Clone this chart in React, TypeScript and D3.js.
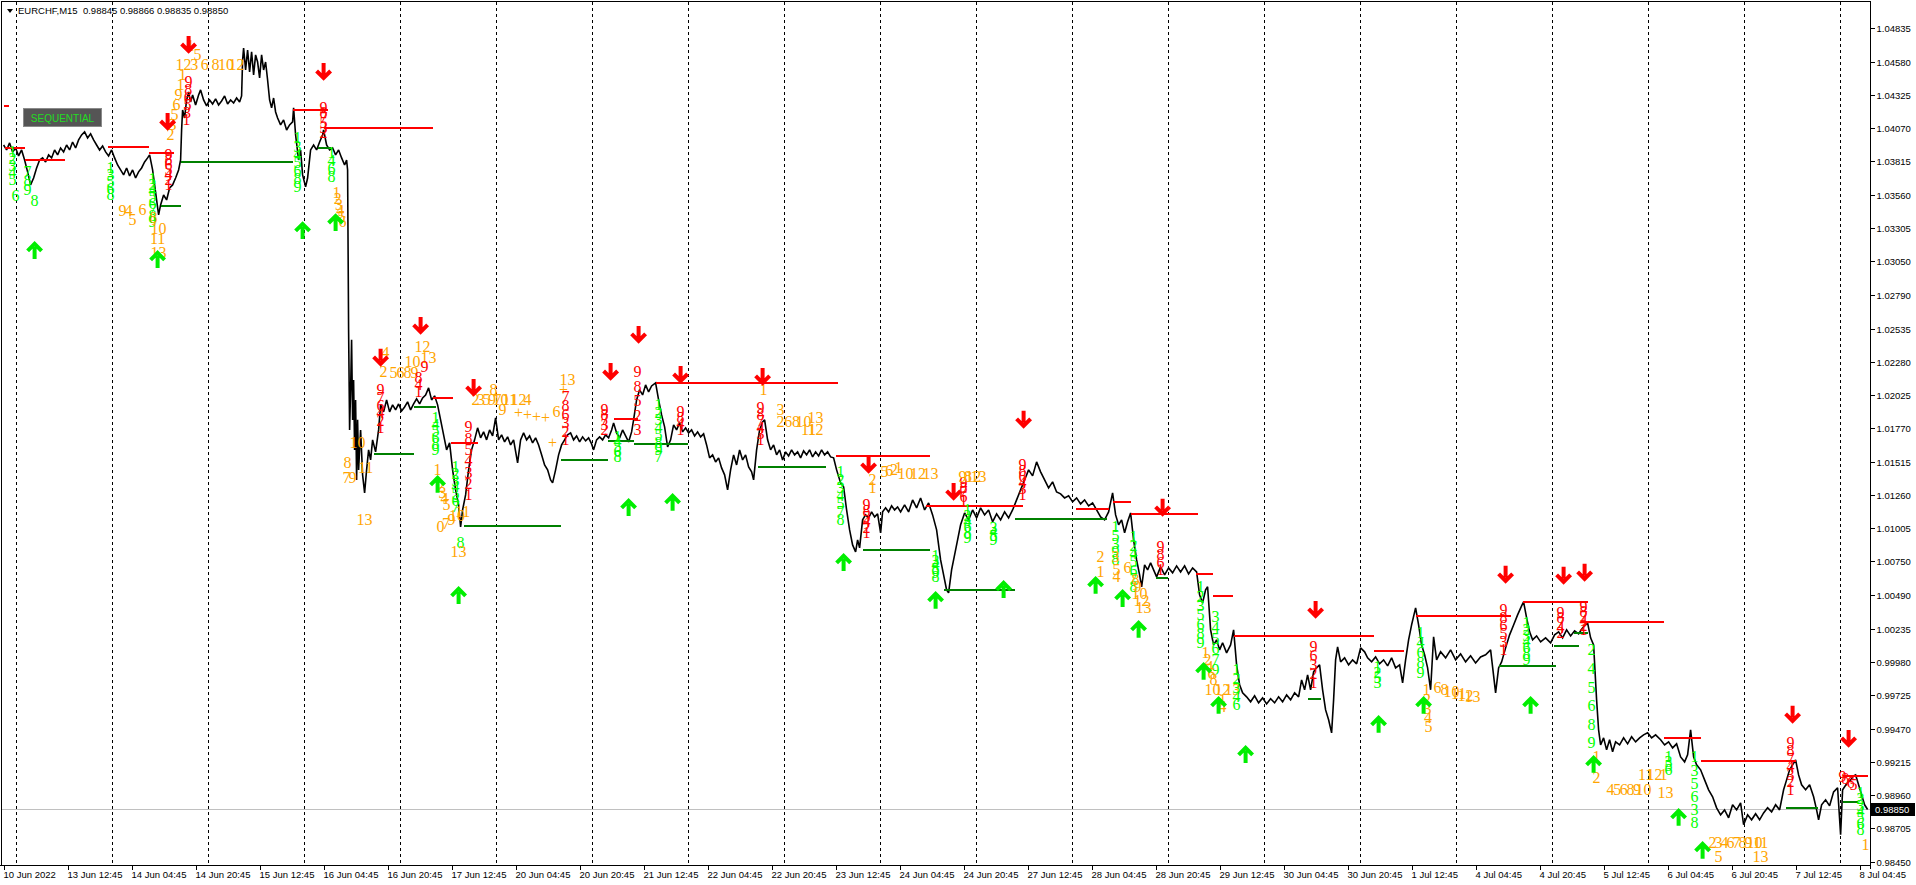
import React from "react";
import * as d3 from "d3";

const priceTickLabels = ["1.04835","1.04580","1.04325","1.04070","1.03815","1.03560","1.03305","1.03050","1.02790","1.02535","1.02280","1.02025","1.01770","1.01515","1.01260","1.01005","1.00750","1.00490","1.00235","0.99980","0.99725","0.99470","0.99215","0.98960","0.98705","0.98450"];
const timeTickLabels = ["10 Jun 2022","13 Jun 12:45","14 Jun 04:45","14 Jun 20:45","15 Jun 12:45","16 Jun 04:45","16 Jun 20:45","17 Jun 12:45","20 Jun 04:45","20 Jun 20:45","21 Jun 12:45","22 Jun 04:45","22 Jun 20:45","23 Jun 12:45","24 Jun 04:45","24 Jun 20:45","27 Jun 12:45","28 Jun 04:45","28 Jun 20:45","29 Jun 12:45","30 Jun 04:45","30 Jun 20:45","1 Jul 12:45","4 Jul 04:45","4 Jul 20:45","5 Jul 12:45","6 Jul 04:45","6 Jul 20:45","7 Jul 12:45","8 Jul 04:45"];
const barsPerTimeTick = 64;
const daySeparatorBars = [12,108,204,300,396,492,588,684,780,876,972,1068,1164,1260,1356,1452,1548,1644,1740,1836];
const lastBar = 1864;
const currentPrice = 0.9885;
const headerText = "EURCHF,M15  0.98845 0.98866 0.98835 0.98850";

// [bar index (M15), close]
const closes: [number, number][] = [
[0,1.03941],[3,1.03903],[6,1.03957],[9,1.03888],[12,1.03918],[15,1.03857],[18,1.03903],[21,1.03826],[24,1.03735],[27,1.03635],[30,1.03688],[33,1.03765],[36,1.03826],[39,1.03842],[42,1.03811],[45,1.03865],[48,1.03842],[51,1.03903],[54,1.03865],[57,1.03918],[60,1.03888],[63,1.03941],[66,1.03903],[69,1.03964],[72,1.03918],[75,1.03980],[78,1.04018],[81,1.04041],[84,1.03995],[87,1.04026],[90,1.03980],[93,1.03941],[96,1.03903],[99,1.03934],[102,1.03888],[105,1.03857],[108,1.03903],[111,1.03842],[114,1.03788],[117,1.03750],
[120,1.03712],[123,1.03765],[126,1.03704],[129,1.03750],[132,1.03688],[135,1.03735],[138,1.03765],[141,1.03811],[144,1.03842],[146,1.03865],[149,1.03750],[151,1.03635],[153,1.03520],[155,1.03405],[157,1.03482],[160,1.03558],[163,1.03520],[166,1.03612],[169,1.03635],[172,1.03688],[175,1.03750],[177,1.03826],[178,1.04056],[179,1.04209],[181,1.04148],[183,1.04286],[185,1.04347],[187,1.04271],[189,1.04324],[192,1.04248],[195,1.04324],[197,1.04363],[200,1.04286],[203,1.04240],[206,1.04286],[209,1.04255],[212,1.04294],[215,1.04248],[218,1.04278],[221,1.04317],[224,1.04255],[227,1.04286],[230,1.04263],[233,1.04301],[236,1.04271],[238,1.04317],[239,1.04592],[240,1.04684],[242,1.04516],[244,1.04669],[246,1.04500],[248,1.04654],[250,1.04478],[252,1.04631],[254,1.04577],[256,1.04455],[258,1.04631],[260,1.04516],[262,1.04577],[264,1.04439],[266,1.04286],[268,1.04225],[270,1.04301],[272,1.04194],[274,1.04148],[277,1.04095],[280,1.04133],[283,1.04056],[286,1.04095],[289,1.04118],[290,1.04225],[292,1.04018],[295,1.03826],[297,1.03903],[299,1.03712],[302,1.03620],[304,1.03688],[307,1.03903],[310,1.03941],[313,1.03903],[316,1.03964],[319,1.04018],[320,1.04056],[323,1.03941],[326,1.03903],[329,1.03918],[332,1.03865],[335,1.03903],[338,1.03842],[341,1.03788],[343,1.03826],[344,1.03750],
[345,1.02524],[346,1.01758],[347,1.02065],[348,1.02448],[349,1.01835],[350,1.02141],[351,1.01605],[352,1.01988],[353,1.01375],[354,1.01835],[355,1.01452],[357,1.01758],[359,1.01414],[361,1.01276],[363,1.01452],[365,1.01605],[367,1.01528],[369,1.01682],[372,1.01590],[375,1.01758],[377,1.01950],[380,1.01896],[383,1.01988],[386,1.01896],[389,1.01950],[392,1.01911],[395,1.01957],[398,1.01904],[401,1.01934],[404,1.01973],[407,1.01911],[410,1.01957],[413,1.01996],[416,1.01957],[419,1.02003],[422,1.02026],[425,1.02080],[428,1.01988],[431,1.02019],[434,1.01950],[437,1.01835],[440,1.01720],[443,1.01605],[446,1.01659],[449,1.01452],[452,1.01299],[455,1.01184],[457,1.01015],[459,1.01145],[462,1.01260],[465,1.01452],[468,1.01605],[471,1.01682],[474,1.01774],[477,1.01697],[480,1.01743],[483,1.01682],[486,1.01758],[489,1.01712],[492,1.01850],[495,1.01682],[498,1.01720],[501,1.01666],[504,1.01705],[507,1.01643],[510,1.01682],[514,1.01505],[517,1.01682],[520,1.01735],[523,1.01682],[526,1.01712],[529,1.01659],[532,1.01697],[535,1.01643],[538,1.01567],[541,1.01490],[544,1.01452],[547,1.01375],[549,1.01352],[552,1.01452],[555,1.01567],[558,1.01643],[561,1.01682],[564,1.01720],[567,1.01735],[570,1.01682],[573,1.01712],[576,1.01666],[579,1.01705],[582,1.01674],[585,1.01697],[588,1.01651],[590,1.01605],[593,1.01682],[596,1.01705],[599,1.01682],[602,1.01720],[605,1.01697],[608,1.01758],[610,1.01812],[613,1.01735],[616,1.01697],[619,1.01758],[622,1.01712],[625,1.01666],[628,1.01743],[630,1.01835],[633,1.01988],[636,1.02065],[639,1.02026],[642,1.02103],[645,1.02049],[648,1.02095],[652,1.02118],[655,1.01988],[658,1.01873],[661,1.01781],[664,1.01628],[667,1.01682],[670,1.01797],[673,1.01758],[676,1.01812],[679,1.01743],[682,1.01774],[685,1.01735],[688,1.01758],[691,1.01712],[694,1.01743],[697,1.01705],[700,1.01728],[703,1.01643],[706,1.01544],[709,1.01567],[712,1.01513],[715,1.01544],[718,1.01467],[721,1.01414],[724,1.01299],[727,1.01452],[730,1.01567],[733,1.01490],[736,1.01605],[739,1.01528],[742,1.01567],[745,1.01475],[748,1.01437],[750,1.01375],[753,1.01605],[756,1.01758],[759,1.01820],[761,1.01835],[764,1.01682],[767,1.01605],[770,1.01643],[773,1.01567],[776,1.01605],[779,1.01528],[782,1.01590],[785,1.01559],[788,1.01605],[791,1.01567],[794,1.01590],[797,1.01544],[800,1.01597],[803,1.01567],[806,1.01605],[809,1.01551],[812,1.01590],[815,1.01559],[818,1.01605],[821,1.01567],[824,1.01590],[827,1.01551],[830,1.01544],[833,1.01452],[837,1.01352],[840,1.01322],[843,1.01145],[846,1.00992],[849,1.00877],[852,1.00824],[854,1.00916],[856,1.00854],[859,1.01069],[862,1.01107],[865,1.01084],[868,1.01130],[871,1.01092],[874,1.01115],[877,1.00969],[879,1.01130],[882,1.01161],[885,1.01130],[888,1.01176],[891,1.01145],[894,1.01168],[897,1.01130],
[901,1.01184],[905,1.01130],[909,1.01222],[913,1.01161],[917,1.01237],[921,1.01145],[925,1.01199],[929,1.01107],[933,1.00992],[937,1.00762],[940,1.00648],[943,1.00533],[945,1.00510],[948,1.00686],[951,1.00801],[954,1.00916],[957,1.01031],[961,1.01122],[965,1.01069],[969,1.01145],[973,1.01084],[977,1.01161],[981,1.01107],[985,1.01145],[989,1.01054],[993,1.01115],[997,1.01069],[1001,1.01130],[1005,1.01084],[1009,1.01145],[1013,1.01222],[1017,1.01299],[1021,1.01375],[1025,1.01452],[1029,1.01406],[1033,1.01513],[1037,1.01437],[1041,1.01375],[1045,1.01314],[1049,1.01360],[1053,1.01283],[1057,1.01268],[1061,1.01237],[1065,1.01253],[1069,1.01207],[1073,1.01237],[1077,1.01191],[1081,1.01222],[1085,1.01176],[1089,1.01199],[1093,1.01145],[1097,1.01092],
[1101,1.01069],[1105,1.01130],[1109,1.01276],[1112,1.01107],[1115,1.01031],[1118,1.01069],[1121,1.00969],[1124,1.01054],[1127,1.01122],[1130,1.00916],[1133,1.00762],[1136,1.00648],[1138,1.00556],[1141,1.00724],[1144,1.00686],[1147,1.00739],[1150,1.00686],[1153,1.00632],[1157,1.00709],[1161,1.00648],[1165,1.00701],[1169,1.00663],[1173,1.00716],[1177,1.00670],[1181,1.00716],[1185,1.00655],[1189,1.00701],[1193,1.00670],[1196,1.00494],[1199,1.00433],[1202,1.00533],[1204,1.00556],[1207,1.00226],[1210,1.00111],[1213,1.00150],[1216,1.00073],[1219,1.00127],[1223,1.00050],[1227,1.00111],[1230,1.00226],[1233,0.99958],[1236,0.99805],[1239,0.99744],[1243,0.99713],[1247,0.99675],[1251,0.99721],[1255,0.99667],[1259,0.99705],[1263,0.99659],[1267,0.99698],[1271,0.99667],[1275,0.99713],[1279,0.99675],[1283,0.99728],[1287,0.99690],[1291,0.99744],[1295,0.99713],[1298,0.99843],[1301,0.99767],[1304,0.99882],[1307,0.99767],[1310,0.99905],[1313,0.99935],[1316,0.99958],[1319,0.99767],[1322,0.99613],[1325,0.99537],[1328,0.99437],[1330,0.99690],[1332,0.99996],[1334,1.00096],[1337,0.99981],[1341,1.00012],[1345,0.99958],[1349,0.99996],[1353,0.99966],[1357,1.00088],[1361,1.00058],[1364,1.00012],[1368,0.99981],[1372,1.00019],[1376,0.99966],[1380,0.99996],[1384,0.99950],[1388,1.00012],[1392,0.99935],[1396,0.99958],
[1399,0.99820],[1402,0.99996],[1405,1.00150],[1408,1.00264],[1412,1.00395],[1415,1.00264],[1418,1.00111],[1421,1.00035],[1424,0.99935],[1427,0.99767],[1430,1.00173],[1433,0.99996],[1437,1.00058],[1442,1.00012],[1447,1.00073],[1452,0.99996],[1457,1.00042],[1462,0.99981],[1467,1.00027],[1472,0.99973],[1477,1.00019],[1482,1.00035],[1487,1.00073],[1492,0.99744],[1495,0.99935],[1498,0.99981],[1502,1.00088],[1506,1.00188],[1510,1.00264],[1514,1.00341],[1518,1.00410],[1520,1.00441],[1523,1.00318],[1526,1.00211],[1529,1.00150],[1533,1.00180],[1537,1.00134],[1542,1.00165],[1547,1.00127],[1551,1.00188],[1555,1.00211],[1559,1.00165],[1563,1.00226],[1567,1.00180],[1571,1.00219],[1575,1.00196],[1579,1.00241],[1584,1.00280],[1587,1.00165],[1590,1.00111],[1593,0.99690],[1595,0.99460],[1597,0.99345],[1600,0.99399],[1603,0.99307],[1606,0.99384],[1609,0.99292],[1612,0.99368],[1616,0.99345],[1620,0.99399],[1624,0.99353],[1628,0.99407],[1632,0.99368],[1636,0.99399],[1640,0.99422],[1644,0.99437],[1648,0.99399],[1652,0.99422],[1657,0.99384],[1661,0.99345],[1665,0.99368],[1669,0.99322],[1673,0.99353],[1677,0.99253],[1681,0.99215],[1684,0.99269],[1687,0.99460],[1690,0.99253],[1693,0.99192],[1697,0.99154],[1701,0.99077],[1705,0.99001],[1709,0.98947],[1713,0.98863],[1717,0.98809],[1721,0.98847],[1725,0.98786],[1729,0.98886],[1733,0.98847],[1737,0.98901],[1740,0.98733],[1744,0.98809],[1748,0.98771],[1752,0.98817],[1756,0.98771],[1760,0.98824],[1764,0.98863],[1768,0.98832],[1772,0.98886],[1776,0.98847],[1780,0.99001],[1783,0.99077],[1786,0.99154],[1789,0.99192],[1792,0.99230],[1795,0.99115],[1798,0.99039],[1802,0.99001],[1806,0.99039],[1810,0.98947],[1813,0.98847],[1815,0.98771],[1818,0.98886],[1822,0.98924],[1826,0.98878],[1830,0.98985],[1834,0.99016],[1837,0.98656],[1839,0.99001],[1843,0.99047],[1847,0.99077],[1850,0.99108],[1852,0.99115],[1855,0.99039],[1858,0.98962],[1861,0.98886],[1864,0.98850]
];

// [from bar, to bar, level]
const resistanceLines: [number, number, number][] = [
[0,5,1.04240],[1,21,1.03918],[21,61,1.03826],[104,145,1.03926],[145,170,1.03880],[289,324,1.04209],[320,429,1.04072],[429,449,1.02003],[447,474,1.01659],[610,634,1.01842],[652,834,1.02118],[832,926,1.01559],[922,1019,1.01176],[1072,1105,1.01153],[1109,1127,1.01207],[1127,1194,1.01115],[1192,1209,1.00655],[1209,1229,1.00487],[1230,1370,1.00180],[1370,1400,1.00065],[1412,1507,1.00333],[1519,1584,1.00441],[1577,1660,1.00288],[1660,1697,0.99399],[1697,1792,0.99223],[1839,1864,0.99108]
];
const supportLines: [number, number, number][] = [
[157,177,1.03474],[177,289,1.03811],[314,327,1.03918],[370,410,1.01574],[410,432,1.01934],[460,557,1.01023],[557,604,1.01528],[604,630,1.01674],[630,684,1.01651],[754,822,1.01475],[859,926,1.00839],[940,1011,1.00533],[1011,1103,1.01077],[1152,1164,1.00625],[1304,1317,0.99698],[1495,1552,0.99950],[1550,1575,1.00104],[1570,1584,1.00203],[1782,1814,0.98863],[1839,1854,0.98909]
];
// [bar, price]
const sellArrows: [number, number][] = [
[185,1.04707],[164,1.04117],[320,1.04500],[377,1.02310],[417,1.02555],[470,1.02080],[607,1.02202],[635,1.02486],[677,1.02179],[759,1.02164],[865,1.01490],[950,1.01283],[1020,1.01835],[1159,1.01161],[1312,1.00379],[1502,1.00648],[1560,1.00640],[1581,1.00663],[1789,0.99575],[1845,0.99391]
];
const buyArrows: [number, number][] = [
[31,1.03137],[154,1.03068],[299,1.03290],[332,1.03351],[434,1.01345],[455,1.00494],[625,1.01168],[669,1.01207],[840,1.00747],[932,1.00456],[1000,1.00540],[1092,1.00571],[1119,1.00471],[1135,1.00234],[1200,0.99912],[1215,0.99652],[1242,0.99276],[1375,0.99506],[1420,0.99652],[1527,0.99652],[1590,0.99200],[1675,0.98794],[1699,0.98541]
];
// count labels: [bar first, bar last, price first, price last, counts, kind]
const countLabels: [number, number, number, number, string, string][] = [
[9,9,1.03888,1.03674,"1|2|3|4|5","g"],[12,12,1.03551,1.03551,"6","g"],[24,24,1.03735,1.03597,"7|8|9","g"],[31,31,1.03512,1.03512,"8","g"],[107,107,1.03765,1.03558,"1|3|5|6|8","g"],
[119,125,1.03436,1.03436,"9|4","o"],[129,129,1.03367,1.03367,"5","o"],[139,139,1.03443,1.03443,"6","o"],
[165,165,1.03865,1.03635,"9|8|6|5|4|2|1","r"],[149,149,1.03688,1.03351,"1|2|4|5|6|7|8|9","g"],
[150,150,1.03382,1.03382,"8","o"],[155,155,1.03298,1.03298,"10","o"],[154,154,1.03221,1.03221,"11","o"],[155,155,1.03114,1.03114,"13","o"],
[187,194,1.04707,1.04631,"1|5","o"],[180,233,1.04554,1.04554,"12|3|6|8|10|12","o"],[179,167,1.04478,1.04018,"1|1|9|6|5|3|2","o"],
[185,183,1.04424,1.04133,"9|8|6|5|3|1","r"],[320,320,1.04225,1.04033,"9|8|7|5|3|2","r"],
[294,294,1.03995,1.03620,"1|3|4|5|6|8|9","g"],[328,328,1.03880,1.03696,"1|4|6|8","g"],[333,339,1.03574,1.03351,"1|2|3|4|5|6","o"],
[382,382,1.02348,1.02348,"4","o"],[380,380,1.02202,1.02202,"2","o"],[390,411,1.02195,1.02195,"5|6|8|9","o"],[409,409,1.02279,1.02279,"10","o"],[419,419,1.02394,1.02394,"12","o"],[425,425,1.02310,1.02310,"13","o"],
[415,415,1.02157,1.02049,"8|4|1","r"],[421,421,1.02241,1.02241,"9","r"],[377,377,1.02065,1.01774,"9|7|6|4|2|1","r"],
[354,354,1.01659,1.01659,"10","o"],[344,344,1.01505,1.01505,"8","o"],[362,362,1.01467,1.01467,"11","o"],[343,349,1.01391,1.01391,"7|9","o"],[361,361,1.01069,1.01069,"13","o"],
[432,432,1.01850,1.01605,"1|4|5|6|8|9","g"],[434,434,1.01452,1.01452,"1","o"],[437,443,1.01322,1.01184,"2|3|4|5","o"],[437,459,1.01015,1.01130,"0|7|9|10|11","o"],
[452,452,1.01475,1.01168,"1|2|3|4|5|6|7","g"],[457,457,1.00893,1.00893,"8","g"],[455,455,1.00824,1.00824,"13","o"],
[465,465,1.01781,1.01260,"9|8|5|4|3|2|1","r"],[472,494,1.01988,1.01988,"2|3|5|9|7","o"],[490,490,1.02065,1.02065,"8","o"],[497,524,1.01988,1.01988,"10|11|12|4","o"],[499,499,1.01911,1.01911,"9","o"],[515,542,1.01888,1.01850,"+|+|+|+","o"],
[564,564,1.02141,1.02141,"13","o"],[560,560,1.02065,1.02065,"+","o"],[562,562,1.02011,1.01682,"7|8|6|3|2|1","r"],[549,549,1.01659,1.01659,"+","o"],[553,553,1.01896,1.01896,"6","o"],
[601,601,1.01911,1.01758,"9|8|7|3|2","r"],[614,614,1.01705,1.01551,"1|4|5|6|8","g"],[634,634,1.02202,1.01758,"9|8|5|2|3","r"],[655,655,1.01950,1.01551,"1|2|3|4|5|8|9|7","g"],[677,677,1.01896,1.01758,"9|8|4|1","r"],
[760,760,1.02065,1.02065,"1","o"],[757,757,1.01927,1.01682,"9|8|7|4|3|1","r"],[777,777,1.01911,1.01911,"3","o"],[777,800,1.01819,1.01819,"2|6|8|10","o"],[805,812,1.01758,1.01758,"11|12","o"],[812,812,1.01850,1.01850,"13","o"],
[837,837,1.01436,1.01069,"1|2|3|4|5|7|8","g"],[863,863,1.01184,1.00969,"9|8|5|4|2|1","r"],[869,869,1.01375,1.01314,"2|1","o"],[881,895,1.01436,1.01467,"5|6|2|1","o"],[902,927,1.01421,1.01421,"10|12|13","o"],
[960,960,1.01352,1.01214,"9|8|7|6|1","r"],[959,975,1.01398,1.01398,"9|8|12|13","o"],[1019,1019,1.01490,1.01260,"9|8|6|4|3|1","r"],
[932,932,1.00793,1.00632,"1|3|4|5|9|8","g"],[964,964,1.01145,1.00931,"1|2|4|6|8|9","g"],[990,990,1.01008,1.00916,"3|4|5|9","g"],[1097,1097,1.00785,1.00670,"2|1","o"],
[1112,1112,1.01015,1.00762,"1|5|3|9|8","g"],[1112,1124,1.00785,1.00701,"3|6","o"],[1113,1113,1.00686,1.00632,"5|4","o"],[1130,1130,1.00939,1.00556,"1|2|4|5|6|7|8","g"],[1132,1140,1.00609,1.00395,"8|9|10|12|13","o"],
[1157,1157,1.00862,1.00686,"9|8|6|1","r"],[1197,1197,1.00556,1.00127,"1|2|3|5|6|8|9","g"],[1212,1212,1.00326,0.99920,"3|4|5|6|7|9","g"],[1202,1210,1.00050,0.99843,"1|2|4|6|8","o"],[1209,1229,0.99767,0.99767,"10|12|13","o"],[1219,1219,0.99690,0.99636,"1|4","o"],[1233,1233,0.99920,0.99652,"1|2|3|4|6","g"],
[1310,1310,1.00096,0.99820,"9|6|3|2|1","r"],[1374,1374,0.99943,0.99820,"1|2|5|3","g"],
[1417,1417,1.00203,0.99897,"1|4|6|8|9","g"],[1423,1425,0.99767,0.99483,"1|2|3|4|5","o"],[1434,1469,0.99782,0.99713,"6|8|10|11|12|13","o"],
[1500,1500,1.00379,1.00073,"9|8|6|5|3|1","r"],[1523,1523,1.00280,0.99996,"1|2|3|4|6|8|9","g"],[1557,1557,1.00356,1.00203,"9|8|7|4|2","r"],[1580,1580,1.00403,1.00226,"9|8|7|4|2|1","r"],
[1588,1588,1.00073,0.99361,"2|4|5|6|8|9","g"],[1593,1593,0.99253,0.99092,"1|2","o"],[1607,1640,0.99001,0.99001,"4|5|6|8|9|10","o"],[1642,1660,0.99116,0.99116,"11|12|1","o"],[1662,1662,0.98978,0.98978,"13","o"],[1665,1665,0.99253,0.99154,"1|3|5|6","g"],
[1691,1691,0.99253,0.98748,"1|3|5|6|3|8","g"],[1709,1757,0.98595,0.98595,"2|3|4|6|7|8|9|10|11","o"],[1715,1715,0.98487,0.98487,"5","o"],[1757,1757,0.98487,0.98487,"13","o"],
[1787,1787,0.99361,0.99001,"9|8|7|4|3|2|1","r"],[1839,1850,0.99100,0.99039,"9|8|7|6|5","r"],[1857,1857,0.98978,0.98694,"1|2|3|4|5|6|8","g"],[1862,1862,0.98579,0.98579,"1","o"]
];

const kindColor: Record<string, string> = { g: "#00ff00", r: "#ff0000", o: "#ffa500" };

export default function App() {
  const plotL = 1, plotT = 1.5, plotR = 1870.5, plotB = 865.5;
  const x = d3.scaleLinear().domain([0, lastBar]).range([3.6, 3.6 + lastBar]);
  const y = d3.scaleLinear().domain([0.9845, 1.04835]).range([861.7, 28.3]);
  const line = d3.line<[number, number]>().x(d => x(d[0])).y(d => y(d[1]));
  const axisFont = "'Liberation Sans', Arial, sans-serif";

  const downArrow = (cx: number, cy: number) =>
    `M${cx},${cy - 9} L${cx},${cy + 3} M${cx - 7},${cy - 1} L${cx},${cy + 6} L${cx + 7},${cy - 1}`;
  const upArrow = (cx: number, cy: number) =>
    `M${cx},${cy + 9} L${cx},${cy - 3} M${cx - 7},${cy + 1} L${cx},${cy - 6} L${cx + 7},${cy + 1}`;

  const labelNodes: JSX.Element[] = [];
  countLabels.forEach((lab, i) => {
    const [b0, b1, p0, p1, txt, kind] = lab;
    const items = txt.split("|");
    const n = items.length;
    items.forEach((t, k) => {
      const f = n > 1 ? k / (n - 1) : 0;
      labelNodes.push(
        <text key={`l${i}-${k}`} x={x(b0 + (b1 - b0) * f)} y={y(p0 + (p1 - p0) * f)}
          fill={kindColor[kind]} textAnchor="middle" dominantBaseline="central">{t}</text>
      );
    });
  });

  return (
    <svg width={1916} height={885} style={{ position: "absolute", left: 0, top: 0, display: "block" }}>
      <rect x={0} y={0} width={1916} height={885} fill="#ffffff" />
      <defs>
        <clipPath id="plot">
          <rect x={plotL + 0.5} y={plotT + 0.5} width={plotR - plotL - 1} height={plotB - plotT - 1} />
        </clipPath>
      </defs>
      <g clipPath="url(#plot)">
        {daySeparatorBars.map((b, i) => (
          <line key={`d${i}`} x1={Math.round(x(b)) + 0.5} x2={Math.round(x(b)) + 0.5} y1={plotT} y2={plotB}
            stroke="#000" strokeWidth={1} strokeDasharray="3,3" shapeRendering="crispEdges" />
        ))}
        <line x1={plotL} x2={plotR} y1={Math.round(y(currentPrice)) + 0.5} y2={Math.round(y(currentPrice)) + 0.5}
          stroke="#c0c0c0" strokeWidth={1} shapeRendering="crispEdges" />
        <path d={line(closes) || ""} fill="none" stroke="#000" strokeWidth={1.6} strokeLinejoin="miter" strokeMiterlimit={2} />
        {resistanceLines.map((r, i) => (
          <line key={`r${i}`} x1={x(r[0])} x2={x(r[1])} y1={Math.round(y(r[2]))} y2={Math.round(y(r[2]))}
            stroke="#ff0000" strokeWidth={2} shapeRendering="crispEdges" />
        ))}
        {supportLines.map((r, i) => (
          <line key={`s${i}`} x1={x(r[0])} x2={x(r[1])} y1={Math.round(y(r[2]))} y2={Math.round(y(r[2]))}
            stroke="#008000" strokeWidth={2} shapeRendering="crispEdges" />
        ))}
        <g fontFamily="'Liberation Serif', 'Times New Roman', serif" fontSize={16}>
          {labelNodes}
        </g>
        {sellArrows.map((a, i) => (
          <path key={`sa${i}`} d={downArrow(x(a[0]), y(a[1]))} fill="none" stroke="#ff0000" strokeWidth={4} strokeLinejoin="miter" />
        ))}
        {buyArrows.map((a, i) => (
          <path key={`ba${i}`} d={upArrow(x(a[0]), y(a[1]))} fill="none" stroke="#00ee00" strokeWidth={4} strokeLinejoin="miter" />
        ))}
      </g>

      {/* header */}
      <path d="M7,9 L13,9 L10,13 Z" fill="#000" />
      <text x={18} y={14} fontFamily={axisFont} fontSize={9.5} fill="#000" style={{ whiteSpace: "pre" }}>{headerText}</text>

      {/* SEQUENTIAL button */}
      <rect x={23.5} y={108.5} width={78} height={18} fill="#555555" stroke="#8a8a8a" strokeWidth={1} />
      <text x={62.5} y={118} fontFamily={axisFont} fontSize={10} fill="#22dd22" textAnchor="middle" dominantBaseline="central">SEQUENTIAL</text>

      {/* frame */}
      <line x1={plotL} x2={plotL} y1={plotT} y2={plotB} stroke="#000" strokeWidth={1} shapeRendering="crispEdges" />
      <line x1={plotL} x2={plotR} y1={plotT} y2={plotT} stroke="#000" strokeWidth={1} shapeRendering="crispEdges" />
      <line x1={plotR} x2={plotR} y1={plotT} y2={plotB + 3} stroke="#000" strokeWidth={1} shapeRendering="crispEdges" />
      <line x1={0} x2={plotR} y1={plotB} y2={plotB} stroke="#000" strokeWidth={1} shapeRendering="crispEdges" />

      {/* price axis */}
      <g fontFamily={axisFont} fontSize={9.5} fill="#000">
        {priceTickLabels.map((lab, i) => {
          const yy = Math.round(y(parseFloat(lab))) + 0.5;
          return (
            <g key={`pt${i}`}>
              <line x1={plotR} x2={plotR + 4} y1={yy} y2={yy} stroke="#000" shapeRendering="crispEdges" />
              <text x={plotR + 6} y={yy} dominantBaseline="central">{lab}</text>
            </g>
          );
        })}
      </g>
      <rect x={1871} y={Math.round(y(currentPrice)) - 6} width={44} height={13} fill="#000" />
      <text x={1875} y={Math.round(y(currentPrice)) + 0.5} fontFamily={axisFont} fontSize={9.5} fill="#fff" dominantBaseline="central">{currentPrice.toFixed(5)}</text>

      {/* time axis */}
      <g fontFamily={axisFont} fontSize={9.5} fill="#000">
        {timeTickLabels.map((lab, i) => {
          const xx = Math.round(x(i * barsPerTimeTick)) + 0.5;
          return (
            <g key={`tt${i}`}>
              <line x1={xx} x2={xx} y1={plotB} y2={plotB + 4} stroke="#000" shapeRendering="crispEdges" />
              <text x={xx - 1} y={874} dominantBaseline="central">{lab}</text>
            </g>
          );
        })}
      </g>
    </svg>
  );
}
